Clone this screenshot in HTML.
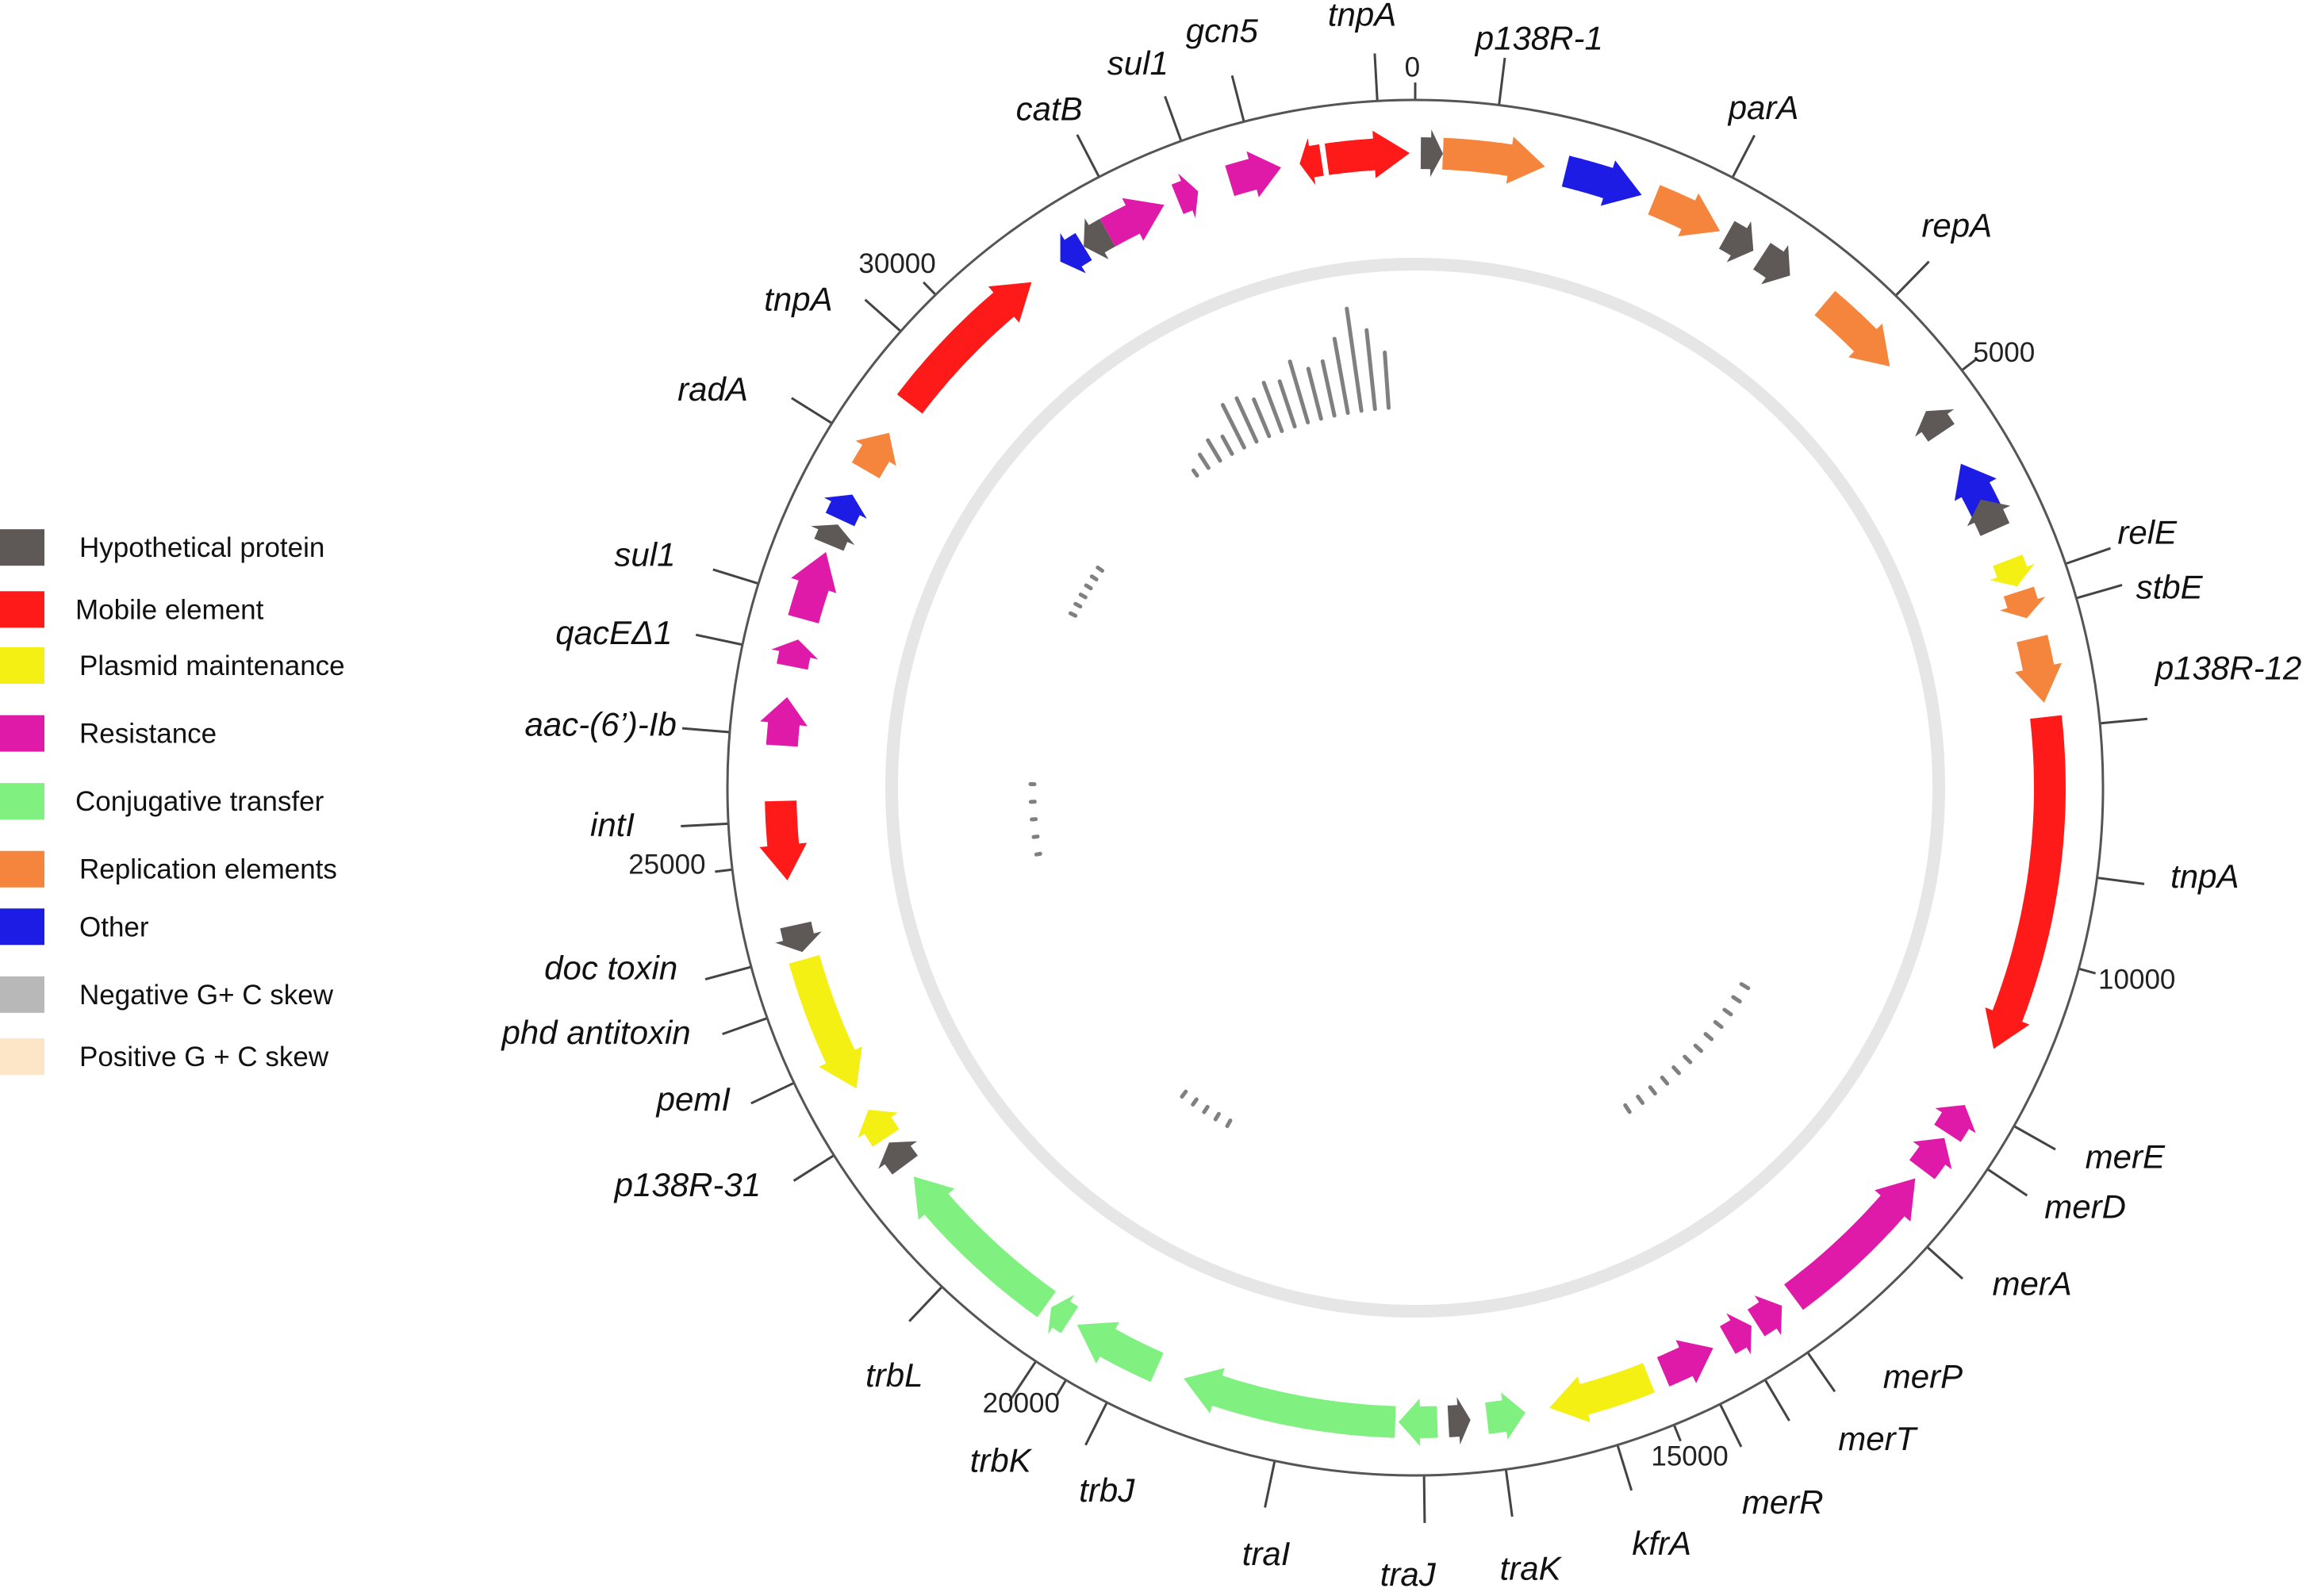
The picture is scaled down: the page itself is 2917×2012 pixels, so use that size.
<!DOCTYPE html>
<html><head><meta charset="utf-8">
<style>
html,body{margin:0;padding:0;background:#fff;}
svg{display:block;}
text{font-family:"Liberation Sans",sans-serif;}
.lbl{font-style:italic;font-size:42px;fill:#111;}
.leg{font-size:35px;fill:#111;}
.scl{font-size:35px;fill:#222;}
</style></head>
<body>
<svg id="map" width="2917" height="2012" viewBox="0 0 2917 2012" xmlns="http://www.w3.org/2000/svg">
<g id="legend"></g>
<g id="skew"></g>
<g id="genes"></g>
<g id="labels"></g>
</svg>
<script>
const TOTAL = 34200;
const geneStart = [48,238,1302,2100,2793,3145,3819,5092,5634,5985,6555,6840,7258,7942,11400,11733,12160,13747,14060,14440,15048,16150,16625,16910,17271,19380,20235,20473,22183,22468,22962,24225,24852,26011,26695,27113,27788,28025,28500,29184,30970,31208,31445,32110,32585,33203,33440];
const geneEnd   = [238,1121,1986,2727,3059,3439,4598,5320,6099,6270,6793,7078,7819,10859,11685,12065,13623,14013,14298,14915,15941,16483,16815,17243,19133,20159,20425,22059,22420,22753,24159,24463,25536,26429,26933,27721,27978,28263,28880,30666,31208,31445,31987,32300,33041,33393,34153];
const geneStrand= [1,1,1,1,1,1,1,-1,-1,-1,1,1,1,1,-1,-1,-1,-1,-1,-1,1,-1,-1,1,1,1,1,1,1,1,-1,-1,-1,1,1,1,1,1,1,1,-1,-1,1,1,1,-1,1];
const geneCat   = ["hyp","rep","oth","rep","hyp","hyp","rep","hyp","oth","hyp","pla","rep","rep","mob","res","res","res","res","res","res","pla","con","hyp","con","con","con","con","con","hyp","pla","pla","hyp","mob","res","res","res","hyp","oth","rep","mob","oth","hyp","res","res","res","mob","mob"];
const catNames = ["Hypothetical  protein","Mobile  element","Plasmid  maintenance","Resistance","Conjugative  transfer","Replication  elements","Other","Negative  G+ C skew","Positive  G + C skew"];
const catKeys  = ["hyp","mob","pla","res","con","rep","oth","neg","pos"];
const colors = {hyp:"#5e5856",mob:"#ff1a1a",pla:"#f4f013",res:"#e01aa8",con:"#80f080",rep:"#f5843d",oth:"#1c1ce4",neg:"#b8b8b8",pos:"#fde6c8"};
const labelNames = ["tnpA","p138R-1","parA","repA","relE","stbE","p138R-12","tnpA","merE","merD","merA","merP","merT","merR","kfrA","traK","traJ","traI","trbJ","trbK","trbL","p138R-31","pemI","phd antitoxin","doc toxin","intI","aac-(6’)-Ib","qacEΔ1","sul1","radA","tnpA","catB","sul1","gcn5"];
const labelBp = [33900,665,2610,4210,6745,7030,8040,9265,11350,11750,12530,13795,14195,14600,15475,16380,17030,18220,19630,20280,21230,22580,23235,23790,24215,25365,26090,26790,27290,28690,29600,31600,32310,32830];
const labelPos = [[923,17],[1043,33],[1195,80],[1326,160],[1455,368],[1470,405],[1510,460],[1494,601],[1440,791],[1413,825],[1377,877],[1303,940],[1272,982],[1208,1025],[1126,1053],[1037,1070],[954,1074],[858,1060],[750,1017],[678,997],[606,939],[466,810],[470,752],[404,707],[414,663],[415,566],[407,498],[416,436],[437,383],[483,271],[541,210],[711,81],[771,50],[828,28]];
const scaleTicks = [0,5000,10000,15000,20000,25000,30000];
const scalePos = [[957,52],[1358,245],[1448,670],[1145,993],[692,957],[452,592],[608,185]];
const skewBp   = [30880,31076,31272,31468,31664,31860,32056,32252,32448,32644,32840,33036,33232,33428,33624,33820,
                  28200,28350,28500,28650,28800,28950,
                  11500,11720,11940,12160,12380,12600,12820,13040,13260,13480,13700,13920,
                  19860,20050,20240,20430,20620,
                  24700,24950,25200,25450,25700];
const skewVal  = [8,20,30,25,60,60,50,65,60,80,65,70,95,130,100,70,
                  7,7,7,7,7,7,
                  10,10,10,10,10,10,10,10,10,10,10,10,
                  8,8,8,8,8,
                  5,5,5,5,5];

const S = 1.8603, CX = 1784, CY = 993, R = 867;
const NS = "http://www.w3.org/2000/svg";
function ang(bp){ return bp / TOTAL * 2 * Math.PI; }
function pt(bp, r){ const a = ang(bp); return [CX + r*Math.sin(a), CY - r*Math.cos(a)]; }
function mk(tag, attrs, parent){ const e = document.createElementNS(NS, tag); for (const k in attrs) e.setAttribute(k, attrs[k]); parent.appendChild(e); return e; }
const svg = document.getElementById('map');

const oc = mk('circle', {cx:CX, cy:CY, r:R, fill:'none', stroke:'#555', 'stroke-width':3}, svg);


const ir = mk('circle', {cx:CX, cy:CY, r:660, fill:'none', stroke:'#e6e6e6', 'stroke-width':16}, svg);



const skewG = document.getElementById('skew');
for (let i = 0; i < skewBp.length; i++){
  const p1 = pt(skewBp[i], 480), p2 = pt(skewBp[i], 480 + skewVal[i]);
  const l = mk('line', {x1:p1[0], y1:p1[1], x2:p2[0], y2:p2[1], stroke:'#808080', 'stroke-width':5, 'stroke-linecap':'round'}, skewG);
  
  
}

const genesG = document.getElementById('genes');
const RM = 800, HW = 20, HHW = 30, HEADPX = 45;
for (let i = 0; i < geneStart.length; i++){
  let s = geneStart[i], e = geneEnd[i];
  const span = e - s;
  const headBp = Math.min(span * 0.55, HEADPX / (2*Math.PI*RM) * TOTAL);
  let tip, base, bodyStart;
  if (geneStrand[i] > 0){ tip = e; base = e - headBp; bodyStart = s; }
  else { tip = s; base = s + headBp; bodyStart = e; }
  const pts = [];
  const N = 24;
  for (let k = 0; k <= N; k++){ pts.push(pt(bodyStart + (base - bodyStart)*k/N, RM + HW)); }
  pts.push(pt(base, RM + HHW));
  pts.push(pt(tip, RM));
  pts.push(pt(base, RM - HHW));
  for (let k = N; k >= 0; k--){ pts.push(pt(bodyStart + (base - bodyStart)*k/N, RM - HW)); }
  const p = mk('polygon', {points: pts.map(q => q[0].toFixed(1)+','+q[1].toFixed(1)).join(' '), fill: colors[geneCat[i]]}, genesG);
  
  
}

const labG = document.getElementById('labels');
for (let i = 0; i < labelNames.length; i++){
  const p1 = pt(labelBp[i], R), p2 = pt(labelBp[i], R + 60);
  const l = mk('line', {x1:p1[0], y1:p1[1], x2:p2[0], y2:p2[1], stroke:'#444', 'stroke-width':3}, labG);
  
  
  const t = mk('text', {x: labelPos[i][0]*S, y: labelPos[i][1]*S + 1, class:'lbl', 'text-anchor':'middle'}, labG);
  t.textContent = labelNames[i];
  
  
}
for (let i = 0; i < scaleTicks.length; i++){
  const p1 = pt(scaleTicks[i], R), p2 = pt(scaleTicks[i], R + 22);
  const l = mk('line', {x1:p1[0], y1:p1[1], x2:p2[0], y2:p2[1], stroke:'#444', 'stroke-width':3}, labG);
  
  
  const t = mk('text', {x: scalePos[i][0]*S, y: scalePos[i][1]*S, class:'scl', 'text-anchor':'middle'}, labG);
  t.textContent = String(scaleTicks[i]);
  
  
}

const legG = document.getElementById('legend');
const legY = [371,413,451,497,543,589,628,674,716];
for (let i = 0; i < catNames.length; i++){
  const y = legY[i]*S;
  const r = mk('rect', {x:0, y:y-23, width:56, height:46, fill:colors[catKeys[i]]}, legG);
  
  
  const t = mk('text', {x: (i==1||i==4?95:100), y: y+12, class:'leg'}, legG);
  t.textContent = catNames[i];
  
  
}
</script>
</body></html>
